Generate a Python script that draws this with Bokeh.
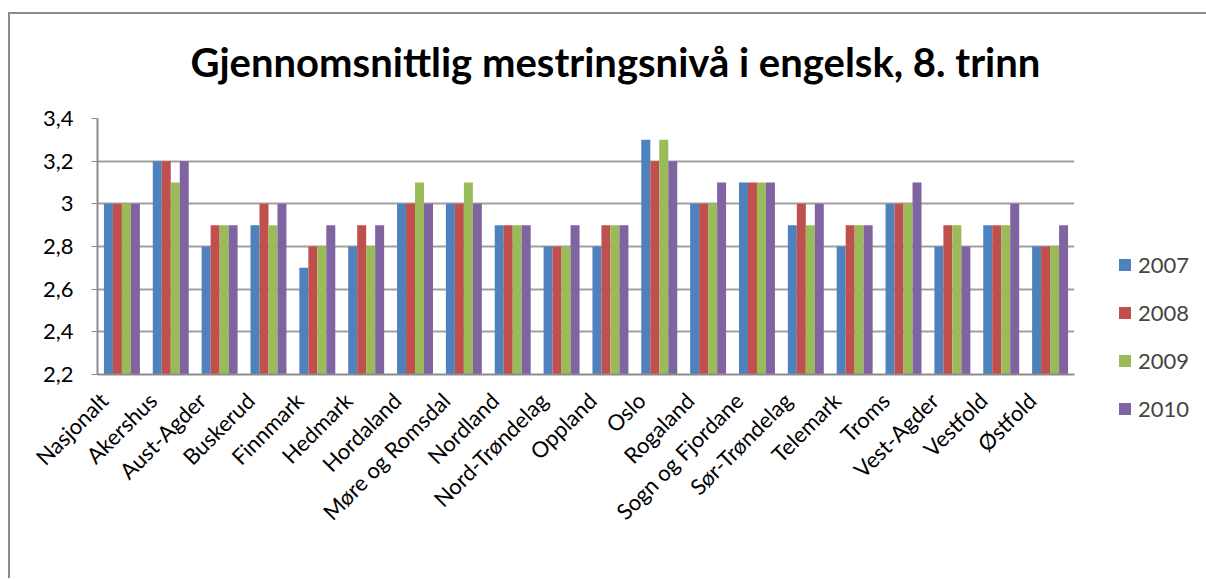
from bokeh.plotting import figure
from bokeh.models import (ColumnDataSource, FixedTicker, Legend, LegendItem, Range1d, Title,
                          CustomJSTickFormatter)
from bokeh.transform import dodge
from bokeh.embed import file_html
from bokeh.resources import INLINE

categories = ["Nasjonalt", "Akershus", "Aust-Agder", "Buskerud", "Finnmark", "Hedmark",
              "Hordaland", "Møre og Romsdal", "Nordland", "Nord-Trøndelag", "Oppland", "Oslo",
              "Rogaland", "Sogn og Fjordane", "Sør-Trøndelag", "Telemark", "Troms",
              "Vest-Agder", "Vestfold", "Østfold"]
v2007 = [3.0, 3.2, 2.8, 2.9, 2.7, 2.8, 3.0, 3.0, 2.9, 2.8, 2.8, 3.3, 3.0, 3.1, 2.9, 2.8, 3.0, 2.8, 2.9, 2.8]
v2008 = [3.0, 3.2, 2.9, 3.0, 2.8, 2.9, 3.0, 3.0, 2.9, 2.8, 2.9, 3.2, 3.0, 3.1, 3.0, 2.9, 3.0, 2.9, 2.9, 2.8]
v2009 = [3.0, 3.1, 2.9, 2.9, 2.8, 2.8, 3.1, 3.1, 2.9, 2.8, 2.9, 3.3, 3.0, 3.1, 2.9, 2.9, 3.0, 2.9, 2.9, 2.8]
v2010 = [3.0, 3.2, 2.9, 3.0, 2.9, 2.9, 3.0, 3.0, 2.9, 2.9, 2.9, 3.2, 3.1, 3.1, 3.0, 2.9, 3.1, 2.8, 3.0, 2.9]
series_names = ["2007", "2008", "2009", "2010"]
y_ticks = [2.2, 2.4, 2.6, 2.8, 3.0, 3.2, 3.4]
y_tick_labels = ["2,2", "2,4", "2,6", "2,8", "3", "3,2", "3,4"]
title_text = "Gjennomsnittlig mestringsnivå i engelsk, 8. trinn"

colors = ["#4F81BD", "#C0504D", "#9BBB59", "#8064A2"]
FONT = "Lato"
FRAME_GRAY = "#8c8c8c"

n = len(categories)
idx = list(range(n))
source = ColumnDataSource(dict(i=[k + 0.5 for k in idx], cat=categories,
                               y2007=v2007, y2008=v2008, y2009=v2009, y2010=v2010))

p = figure(x_range=Range1d(0, n), y_range=Range1d(2.2, 3.4),
           frame_width=977, frame_height=256, output_backend="svg", toolbar_location=None,
           min_border_left=97, min_border_top=118, min_border_right=131, min_border_bottom=204)
# outer chart-area border (left and top edges) drawn behind the transparent canvas
p.styles = {
    "background-image": f"linear-gradient({FRAME_GRAY},{FRAME_GRAY}), linear-gradient({FRAME_GRAY},{FRAME_GRAY})",
    "background-size": "calc(100% - 8px) 2px, 2px calc(100% - 12px)",
    "background-position": "8px 12px, 8px 12px",
    "background-repeat": "no-repeat",
    "background-color": "white",
}
p.outline_line_color = None
p.background_fill_color = "white"
p.border_fill_alpha = 0

bw = 0.184
offsets = [-1.5 * bw, -0.5 * bw, 0.5 * bw, 1.5 * bw]
cols = ["y2007", "y2008", "y2009", "y2010"]
renderers = []
for col, off, c in zip(cols, offsets, colors):
    r = p.vbar(x=dodge("i", off), top=col, bottom=2.2, width=bw,
               source=source, fill_color=c, line_color=None)
    renderers.append(r)

p.xgrid.grid_line_color = None
p.ygrid.grid_line_color = "#a0a0a0"
p.ygrid.grid_line_width = 2
p.yaxis.ticker = FixedTicker(ticks=y_ticks)
p.yaxis.major_label_overrides = {t: l for t, l in zip(y_ticks, y_tick_labels)}
p.yaxis.minor_tick_line_color = None
p.yaxis.axis_line_color = FRAME_GRAY
p.yaxis.axis_line_width = 2
p.yaxis.major_tick_line_color = FRAME_GRAY
p.yaxis.major_tick_out = 6
p.yaxis.major_tick_in = 0
p.yaxis.major_label_standoff = 18
p.yaxis.major_label_text_font = FONT
p.yaxis.major_label_text_font_size = "22px"
p.yaxis.major_label_text_color = "black"

# x labels: category names, anchored slightly left of each category centre
label_shift = 0.37
p.xaxis.ticker = FixedTicker(ticks=[k + 0.5 - label_shift for k in idx])
p.xaxis.formatter = CustomJSTickFormatter(args=dict(names=categories, sh=label_shift),
                                          code="return names[Math.round(tick + sh - 0.5)] || '';")
p.xaxis.axis_line_color = FRAME_GRAY
p.xaxis.axis_line_width = 2
p.xaxis.major_tick_line_color = None
p.xaxis.minor_tick_line_color = None
p.xaxis.major_label_orientation = 0.7853981633974483
p.xaxis.major_label_text_font = FONT
p.xaxis.major_label_text_font_size = "22px"
p.xaxis.major_label_text_color = "black"
p.xaxis.major_label_standoff = 16

title = Title(text=title_text, align="left", offset=93, standoff=66,
              text_font=FONT, text_font_style="bold", text_font_size="40px", text_color="black")
p.add_layout(title, "above")

legend = Legend(items=[LegendItem(label=s, renderers=[r]) for s, r in zip(series_names, renderers)],
                location=(43, -48), orientation="vertical",
                glyph_width=15, glyph_height=15, label_height=20, spacing=21,
                padding=0, margin=0, border_line_color=None, background_fill_alpha=0,
                label_text_font=FONT, label_text_font_size="22px", label_standoff=6)
p.add_layout(legend, "right")

open("out.html", "w").write(file_html(p, INLINE))
